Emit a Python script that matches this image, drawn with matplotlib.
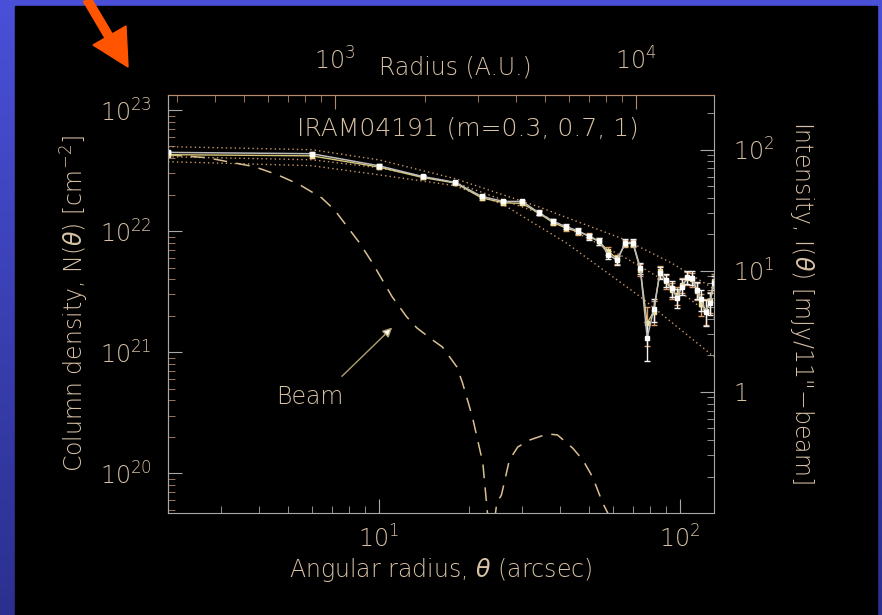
import numpy as np
import matplotlib
matplotlib.use("Agg")
import matplotlib.pyplot as plt
from matplotlib.colors import LinearSegmentedColormap
from matplotlib.patches import Rectangle, Polygon
from matplotlib.lines import Line2D
from matplotlib.ticker import LogLocator, FixedLocator, FixedFormatter, NullFormatter

# Radial profile of IRAM04191 (1.2 mm continuum), 4" bins
radius = [2, 6, 10, 14, 18, 22, 26, 30, 34, 38, 42, 46, 50, 54, 58, 62, 66,
          70, 74, 78, 82, 86, 90, 94, 98, 102, 106, 110, 114, 118, 122, 126, 130]
intensity_a = [95, 92.7, 73.8, 60.1, 53.7, 41.1, 37.4, 37.4, 30.3, 25.6, 23.1,
               21.4, 19.2, 17.5, 13.6, 12.2, 17.1, 17.1, 10.6, 2.8, 4.8, 9.6,
               8.4, 7.2, 6.0, 7.4, 8.9, 8.8, 7.0, 5.8, 4.6, 5.4, 8.0]
err_a = [3.0, 3.0, 2.5, 1.8, 1.6, 1.4, 1.3, 1.3, 1.2, 1.1, 1.1, 1.1, 1.1, 1.1,
         1.1, 1.1, 1.1, 1.1, 1.1, 1.0, 1.0, 1.1, 1.1, 1.1, 1.1, 1.1, 1.1, 1.1,
         1.1, 1.1, 1.1, 1.1, 1.1]
intensity_b = [91, 89, 72, 59, 53, 40, 36.5, 36, 30, 25, 22.5, 21, 19.5, 17.5,
               14.5, 12.5, 16.8, 16.8, 10.2, 3.7, 4.6, 9.9, 8.2, 6.9, 6.3, 7.6,
               8.7, 8.5, 6.8, 5.3, 4.7, 5.6, 8.3]
err_b = [3.0, 3.0, 2.5, 1.8, 1.6, 1.4, 1.3, 1.3, 1.2, 1.1, 1.1, 1.1, 1.1, 1.1,
         1.1, 1.1, 1.1, 1.1, 1.1, 1.3, 1.0, 1.1, 1.1, 1.1, 1.1, 1.1, 1.1, 1.1,
         1.1, 1.1, 1.1, 1.1, 1.1]

# Beam-convolved model profiles, m = 0.3, 0.7, 1
model_r_03 = [2, 6, 10, 18, 34, 66, 94, 130]
model_i_03 = [106, 100, 82.6, 57.6, 33.8, 18.0, 11.6, 7.1]
model_r_07 = [2, 6, 10, 18, 34, 66, 94, 130]
model_i_07 = [87.5, 82.6, 71.0, 53.4, 30.1, 12.8, 7.66, 4.09]
model_r_10 = [2, 6, 10, 18, 26, 42, 74, 130]
model_i_10 = [79.6, 73.8, 62.1, 50.4, 35.1, 17.0, 6.1, 1.95]

# 30m telescope beam at 1.2 mm (with first error lobe)
beam_r = [2.0, 2.69, 3.87, 4.62, 5.47, 6.47, 7.14, 8.65, 9.55, 11.1, 12.4,
          13.4, 15.1, 16.3, 18.2, 19.0, 20.5, 22.2, 23.6, 24.7, 25.6, 27.2,
          29.0, 31.8, 36.4, 39.3, 44.1, 47.7, 51.4, 55.5, 57.7, 60.0]
beam_i = [90.9, 85.9, 72.4, 62.1, 51.4, 40.1, 31.9, 17.0, 11.6, 6.10, 4.17,
          3.38, 2.69, 2.35, 1.61, 1.19, 0.621, 0.259, 0.05, 0.121, 0.141,
          0.274, 0.351, 0.401, 0.450, 0.441, 0.344, 0.274, 0.198, 0.121,
          0.10, 0.07]

col_ticks = [1e20, 1e21, 1e22, 1e23]
au_ticks = [1e3, 1e4]
int_ticks = [1, 10, 100]
int_labels = ["1", r"$\mathdefault{10^{1}}$", r"$\mathdefault{10^{2}}$"]

NCONV = 4.7e20      # cm^-2 per mJy/11"-beam
DIST_PC = 140.0     # AU per arcsec

TXT = "#d8c2a6"
GRAY = "#a8a8a8"
TAN = "#b8896a"
FS = 17

plt.rcParams["font.weight"] = "light"
plt.rcParams["mathtext.default"] = "regular"

fig = plt.figure(figsize=(8.82, 6.15), dpi=100)

# slide background: blue gradient with a black panel
bg = fig.add_axes([0, 0, 1, 1])
cmap = LinearSegmentedColormap.from_list("slide", ["#2b308f", "#4a50d8"])
bg.imshow(np.linspace(0, 1, 256).reshape(-1, 1), cmap=cmap, origin="lower",
          aspect="auto", extent=[0, 1, 0, 1])
bg.add_patch(Rectangle((15 / 882, 0), 862 / 882, 1 - 6 / 615,
                       color="black", transform=bg.transAxes))
bg.add_line(Line2D([85 / 882, 111 / 882], [1 + 4 / 615, 1 - 40 / 615],
                   color="#ff5500", lw=7, solid_capstyle="butt"))
bg.add_patch(Polygon([(93 / 882, 1 - 45 / 615), (126 / 882, 1 - 26 / 615),
                      (128 / 882, 1 - 67 / 615)], closed=True,
                     color="#ff5500", transform=bg.transAxes))
bg.set_xlim(0, 1)
bg.set_ylim(0, 1)
bg.axis("off")

ax = fig.add_axes([168 / 882, 1 - 513 / 615, 546 / 882, 418 / 615])
ax.set_facecolor("black")
ax.set_xscale("log")
ax.set_yscale("log")
ax.set_xlim(2, 130)
ax.set_ylim(0.1, 283)

dot = (0, (1, 2.2))
ax.plot(model_r_03, model_i_03, color="#c89868", lw=1, ls=dot)
ax.plot(model_r_07, model_i_07, color="#c89868", lw=1, ls=dot)
ax.plot(model_r_10, model_i_10, color="#c89868", lw=1, ls=dot)

ax.plot(beam_r, beam_i, color="#d8c090", lw=1.1, ls=(0, (9, 6)))

ax.errorbar(radius, intensity_b, yerr=err_b, color="#d8c878", lw=1.0,
            ecolor="#d89868", elinewidth=1, capsize=2.5, marker="s", ms=2.5,
            mfc="#f0e0a0", mec="#f0e0a0")
ax.errorbar(radius, intensity_a, yerr=err_a, color="#bdbdbd", lw=1.1,
            ecolor="#f2f2f2", elinewidth=1, capsize=2.5, marker="s", ms=2.5,
            mfc="white", mec="white")

ax.text(0.549, 0.921, "IRAM04191 (m=0.3, 0.7, 1)", transform=ax.transAxes,
        ha="center", va="center", color=TXT, fontsize=18)

ax.annotate("Beam", xy=(11.1, 3.4), xytext=(5.9, 0.91), ha="center",
            va="center", color=TXT, fontsize=FS,
            arrowprops=dict(arrowstyle="-|>", fc="white", ec="#b0a070",
                            lw=1, mutation_scale=14, relpos=(0.85, 1.0),
                            shrinkA=6, shrinkB=0))

# right axis: intensity
ax.yaxis.tick_right()
ax.yaxis.set_major_locator(FixedLocator(int_ticks))
ax.yaxis.set_major_formatter(FixedFormatter(int_labels))
ax.yaxis.set_minor_locator(LogLocator(subs=np.arange(2, 10), numticks=20))
ax.yaxis.set_minor_formatter(NullFormatter())
ax.tick_params(axis="y", which="both", direction="in", colors=GRAY,
               labelcolor=TXT, labelsize=FS, pad=14)
ax.tick_params(axis="y", which="major", length=10)
ax.tick_params(axis="y", which="minor", length=5)

ax.xaxis.set_minor_locator(LogLocator(subs=np.arange(2, 10), numticks=20))
ax.xaxis.set_minor_formatter(NullFormatter())
ax.tick_params(axis="x", which="both", direction="in", colors=GRAY,
               labelcolor=TXT, labelsize=FS, pad=9, top=False)
ax.tick_params(axis="x", which="major", length=10)
ax.tick_params(axis="x", which="minor", length=5)

for side in ["left", "right", "bottom"]:
    ax.spines[side].set_color(GRAY)
ax.spines["top"].set_color(TAN)

# left axis: column density
secy = ax.secondary_yaxis("left", functions=(lambda i: i * NCONV,
                                             lambda n: n / NCONV))
secy.yaxis.set_major_locator(FixedLocator(col_ticks))
secy.yaxis.set_minor_locator(LogLocator(subs=np.arange(2, 10), numticks=20))
secy.yaxis.set_minor_formatter(NullFormatter())
secy.tick_params(which="both", direction="in", colors=TAN, labelcolor=TXT,
                 labelsize=FS, pad=12)
secy.tick_params(which="major", length=10, color=GRAY)
secy.tick_params(which="minor", length=5)
secy.spines["left"].set_color(GRAY)

# top axis: radius in AU
secx = ax.secondary_xaxis("top", functions=(lambda a: a * DIST_PC,
                                            lambda r: r / DIST_PC))
secx.xaxis.set_major_locator(FixedLocator(au_ticks))
secx.xaxis.set_minor_locator(LogLocator(subs=np.arange(2, 10), numticks=20))
secx.xaxis.set_minor_formatter(NullFormatter())
secx.tick_params(which="both", direction="in", colors=TAN, labelcolor=TXT,
                 labelsize=FS, pad=15)
secx.tick_params(which="major", length=10)
secx.tick_params(which="minor", length=5)
secx.spines["top"].set_color(TAN)

fig.text(455 / 882, 1 - 67 / 615, "Radius (A.U.)", ha="center", va="center",
         color=TXT, fontsize=FS)
fig.text(441 / 882, 1 - 570 / 615, r"Angular radius, $\mathit{\theta}$ (arcsec)",
         ha="center", va="center", color=TXT, fontsize=FS)
fig.text(75 / 882, 1 - 304 / 615,
         r"Column density, N($\mathit{\theta}$) [cm$^{-2}$]",
         ha="center", va="center", rotation=90, color=TXT, fontsize=FS)
fig.text(802 / 882, 1 - 302 / 615,
         "Intensity, I($\\mathit{\\theta}$) [mJy/11\"\u2212beam]",
         ha="center", va="center", rotation=-90, color=TXT, fontsize=FS)

fig.savefig("out.png", dpi=100, facecolor=fig.get_facecolor())
